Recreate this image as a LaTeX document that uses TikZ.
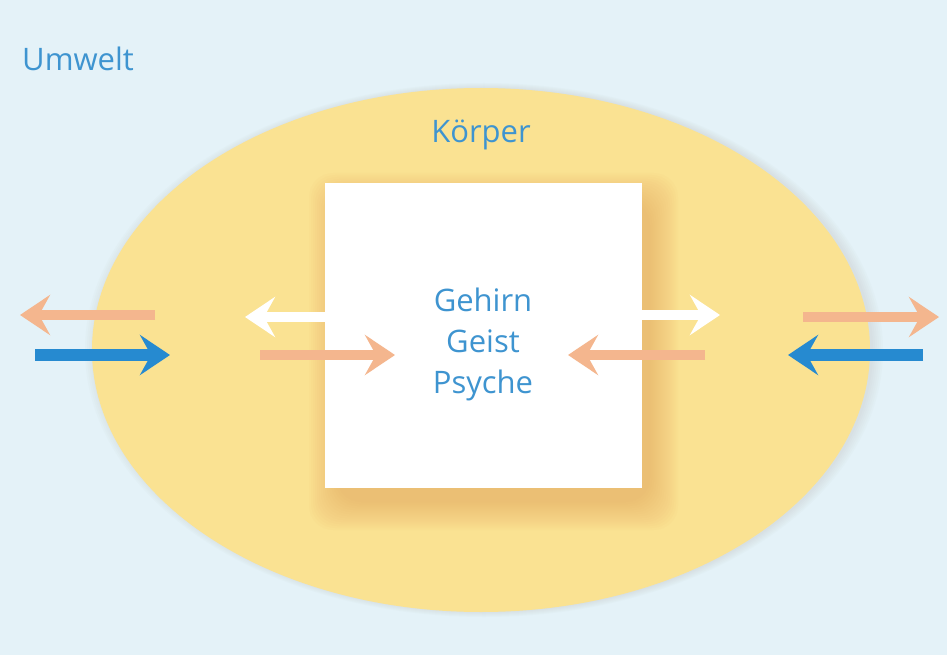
\documentclass[tikz,border=0pt]{standalone}
\usepackage{fontspec}
\setmainfont{Open Sans}
\usetikzlibrary{arrows.meta}
\definecolor{bgblue}{RGB}{228,242,248}
\definecolor{bodyyel}{RGB}{250,226,146}
\definecolor{txtblue}{RGB}{62,148,208}
\definecolor{arrblue}{RGB}{38,138,208}
\definecolor{arrorange}{RGB}{244,182,142}
\definecolor{shadoworange}{RGB}{230,165,95}
\tikzset{
  lbl/.style={text=txtblue, font=\fontsize{31}{41}\selectfont, inner sep=0pt},
  flow/.style={line width=10pt, -{Stealth[length=30pt,width=40pt,inset=11pt]}},
  bigflow/.style={line width=12pt, -{Stealth[length=30pt,width=40pt,inset=11pt]}},
}
\begin{document}
\begin{tikzpicture}[x=1pt,y=-1pt]
\useasboundingbox (0,0) rectangle (947,655);
\fill[bgblue] (0,0) rectangle (947,655);
% body ellipse with faint shade on the right
\foreach \i in {0,...,5}{
  \fill[gray!50, opacity=0.06] (484,350) ellipse [x radius={389+2*\i}, y radius={262+1*\i}];
}
\fill[bodyyel] (481,350) ellipse [x radius=389, y radius=262];
\node[lbl, anchor=base] (koerper) at (481,143) {Körper};
\node[lbl, anchor=base west] (umwelt) at (22,71) {Umwelt};
% blurred shadow of the box
\foreach \i in {0,...,14}{
  \fill[shadoworange, opacity=0.045, rounded corners=24pt]
    ({325+10-26+2*\i},{183+16-26+2*\i}) rectangle ({642+10+26-2*\i},{488+16+26-2*\i});
}
% brain box
\node[fill=white, minimum width=317pt, minimum height=305pt, inner sep=0pt] (box) at (483.5,335.5) {};
\node[lbl, align=center, anchor=base] (psy) at (483,393)
  {Gehirn\\Geist\\Psyche};
% coordinates of free arrow ends
\coordinate (l1s) at (155,315); \coordinate (l1e) at (20,315);
\coordinate (l2s) at (35,355);  \coordinate (l2e) at (170,355);
\coordinate (l3e) at (245,317);
\coordinate (l4s) at (260,355); \coordinate (l4e) at (395,355);
\coordinate (r3e) at (720,315);
\coordinate (r4s) at (705,355); \coordinate (r4e) at (568,355);
\coordinate (r1s) at (803,317); \coordinate (r1e) at (939,317);
\coordinate (r2s) at (923,355); \coordinate (r2e) at (788,355);
% arrows
\draw[flow, arrorange] (l1s) -- (l1e);
\draw[bigflow, arrblue] (l2s) -- (l2e);
\draw[flow, white] (box.west |- l3e) -- (l3e);
\draw[flow, arrorange] (l4s) -- (l4e);
\draw[flow, white] (box.east |- r3e) -- (r3e);
\draw[flow, arrorange] (r4s) -- (r4e);
\draw[flow, arrorange] (r1s) -- (r1e);
\draw[bigflow, arrblue] (r2s) -- (r2e);
\end{tikzpicture}
\end{document}
